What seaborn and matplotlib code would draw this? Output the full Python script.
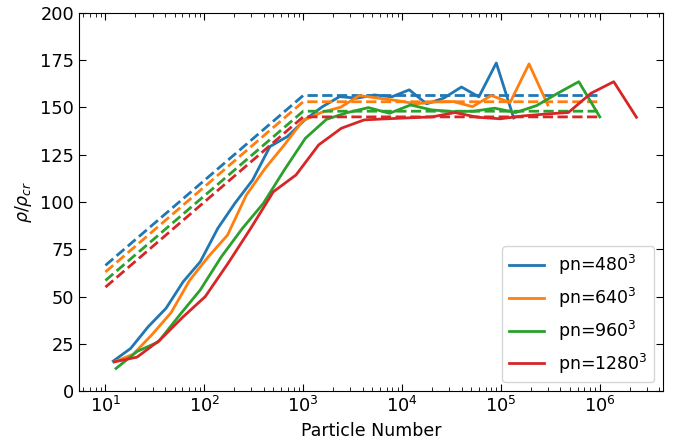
import numpy as np
import pandas as pd
import matplotlib
matplotlib.use("Agg")
import matplotlib.pyplot as plt
import seaborn as sns
from matplotlib.ticker import LogLocator, NullFormatter

# Halo particle counts and density contrasts for four simulation resolutions
labels = [r"pn=480$^3$", r"pn=640$^3$", r"pn=960$^3$", r"pn=1280$^3$"]

n_480 = [12, 18, 27, 41, 61, 91, 137, 205, 308, 461, 692, 1038, 1557, 2335,
         3503, 5254, 7882, 11820, 17730, 26600, 39900, 59850, 89780, 134700]
rho_480 = [15.9, 22.6, 34.0, 43.8, 57.8, 68.4, 86.1, 99.5, 111.6, 129.3, 134.6, 143.4,
           150.3, 155.7, 154.9, 156.6, 155.6, 159.3, 151.9, 155.0, 160.8, 155.6, 173.5, 144.4]

n_640 = [12.3, 19.1, 29.7, 46.0, 71.3, 110.8, 171.7, 266.2, 412.5, 640.9, 993, 1539,
         2390, 3706, 5742, 8922, 13820, 21430, 33210, 51590, 79950, 123900, 192500, 298300]
rho_640 = [15.5, 19.5, 30.0, 41.4, 58.7, 71.3, 82.5, 103.7, 117.8, 130.0, 143.0, 147.4,
           150.1, 156.3, 154.9, 153.6, 151.9, 152.9, 153.1, 150.4, 156.3, 152.6, 173.0, 151.3]

n_960 = [12.8, 20.9, 34.2, 55.8, 91.0, 148.5, 242.3, 395.6, 645.6, 1053, 1719, 2805,
         4578, 7471, 12190, 19900, 32470, 52990, 86480, 141100, 230300, 375800, 613300, 1001000]
rho_960 = [12.0, 21.0, 26.0, 40.0, 53.5, 71.0, 86.0, 99.3, 117.0, 133.7, 143.7, 147.3,
           149.9, 146.9, 151.3, 148.7, 147.8, 148.0, 149.6, 147.3, 151.0, 157.5, 163.6, 145.0]

n_1280 = [12.3, 20.9, 35.5, 60.2, 102.2, 173.4, 294.1, 498.9, 846.4, 1436, 2435, 4132,
          7008, 11890, 20170, 34220, 58050, 98510, 167100, 283500, 481000, 816100, 1384000, 2349000]
rho_1280 = [15.5, 18.0, 27.0, 39.0, 50.0, 67.5, 86.0, 105.4, 114.3, 130.2, 139.0, 143.4,
            144.0, 144.5, 145.0, 147.3, 144.8, 144.0, 145.5, 146.5, 147.3, 157.5, 163.6, 144.8]

# Reference relations: rising part up to 10^3 particles, then constant
ref_n = [10, 1000, 1000000]
ref_480 = [66.5, 156.3, 156.3]
ref_640 = [63.0, 153.0, 153.0]
ref_960 = [58.5, 148.0, 148.0]
ref_1280 = [55.0, 145.0, 145.0]

colors = sns.color_palette("tab10", 4)

series = [
    (labels[0], n_480, rho_480, ref_480),
    (labels[1], n_640, rho_640, ref_640),
    (labels[2], n_960, rho_960, ref_960),
    (labels[3], n_1280, rho_1280, ref_1280),
]

plt.rcParams.update({
    "xtick.direction": "in",
    "ytick.direction": "in",
    "xtick.top": True,
    "ytick.right": True,
    "xtick.major.size": 5,
    "ytick.major.size": 5,
    "xtick.minor.size": 2.8,
    "font.size": 12.5,
})

fig = plt.figure(figsize=(6.8, 4.43), dpi=100)
ax = fig.add_axes([0.116, 0.117, 0.859, 0.854])

for (lab, n, rho, ref), c in zip(series, colors):
    df = pd.DataFrame({"N": n, "rho": rho})
    sns.lineplot(data=df, x="N", y="rho", ax=ax, color=c, lw=2, label=lab,
                 estimator=None, sort=False)
    dref = pd.DataFrame({"N": ref_n, "rho": ref})
    sns.lineplot(data=dref, x="N", y="rho", ax=ax, color=c, lw=2,
                 linestyle=(0, (3.7, 1.6)), estimator=None, sort=False, legend=False)

ax.set_xscale("log")
ax.set_ylim(0, 200)
ax.set_yticks(np.arange(0, 201, 25))
ax.xaxis.set_minor_locator(LogLocator(base=10, subs=np.arange(2, 10), numticks=20))
ax.xaxis.set_minor_formatter(NullFormatter())
ax.tick_params(axis="both", which="both", labelsize=12.8)
ax.set_xlabel("Particle Number", fontsize=12.5)
ax.set_ylabel(r"$\rho/\rho_{cr}$", fontsize=12.5)

handles, hl = ax.get_legend_handles_labels()
ax.legend(handles[:4], hl[:4], loc="lower right", fontsize=12.5)

fig.savefig("out.png", dpi=100)
